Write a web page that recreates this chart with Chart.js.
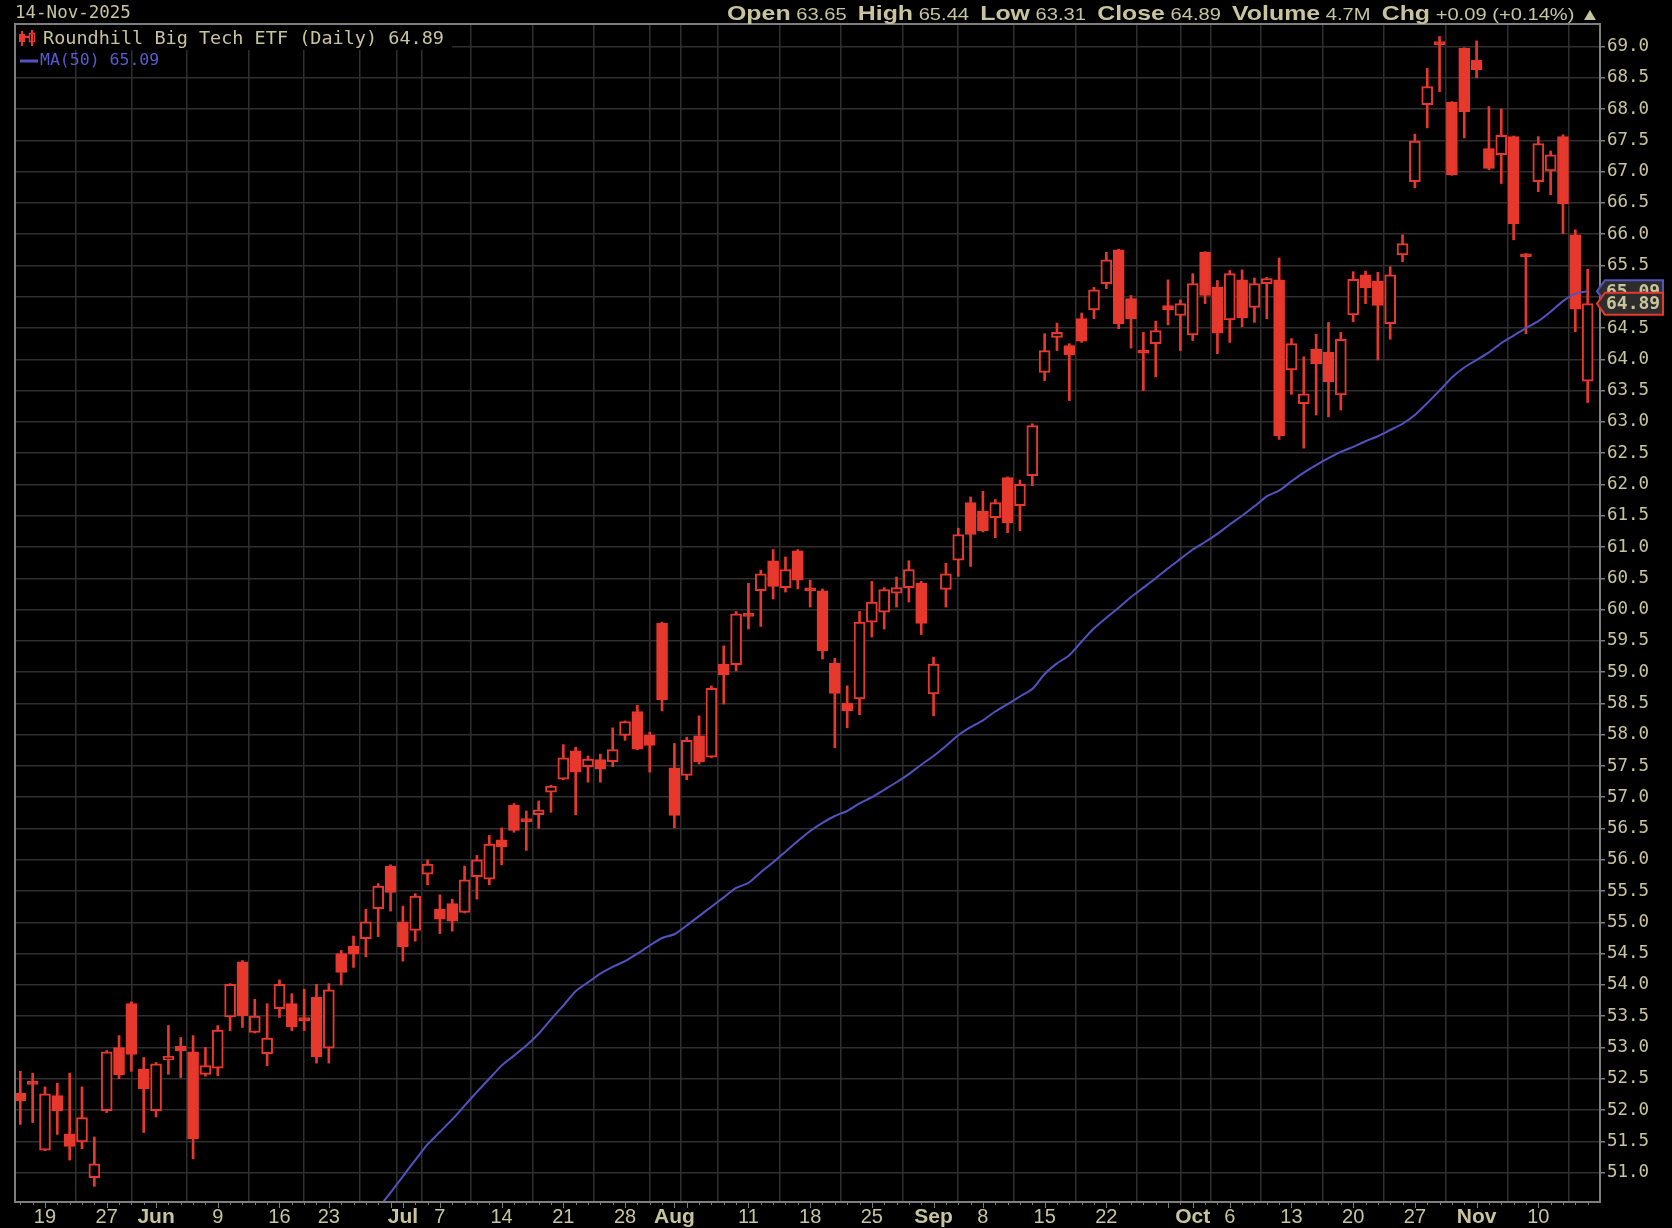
<!DOCTYPE html>
<html>
<head>
<meta charset="utf-8">
<title>Roundhill Big Tech ETF (Daily)</title>
<script src="https://cdn.jsdelivr.net/npm/chart.js@4.4.1/dist/chart.umd.min.js"></script>
<style>
  html, body { margin: 0; padding: 0; background: #000; }
  canvas { display: block; }
</style>
</head>
<body>
<canvas id="chart" width="1672" height="1228"></canvas>
<script>
// trading days, 2025 (MM-DD)
const dates = [
  '05-15','05-16','05-19','05-20','05-21','05-22','05-23','05-27','05-28','05-29','05-30',
  '06-02','06-03','06-04','06-05','06-06','06-09','06-10','06-11','06-12','06-13',
  '06-16','06-17','06-18','06-20','06-23','06-24','06-25','06-26','06-27','06-30',
  '07-01','07-02','07-03','07-07','07-08','07-09','07-10','07-11','07-14','07-15','07-16','07-17','07-18',
  '07-21','07-22','07-23','07-24','07-25','07-28','07-29','07-30','07-31',
  '08-01','08-04','08-05','08-06','08-07','08-08','08-11','08-12','08-13','08-14','08-15',
  '08-18','08-19','08-20','08-21','08-22','08-25','08-26','08-27','08-28','08-29',
  '09-02','09-03','09-04','09-05','09-08','09-09','09-10','09-11','09-12','09-15','09-16','09-17','09-18','09-19',
  '09-22','09-23','09-24','09-25','09-26','09-29','09-30',
  '10-01','10-02','10-03','10-06','10-07','10-08','10-09','10-10','10-13','10-14','10-15','10-16','10-17',
  '10-20','10-21','10-22','10-23','10-24','10-27','10-28','10-29','10-30','10-31',
  '11-03','11-04','11-05','11-06','11-07','11-10','11-11','11-12','11-13','11-14'
];

const opens = [
  52.27,52.46,51.36,52.23,51.62,51.49,50.92,51.99,53.00,53.70,52.65,
  51.99,52.80,53.02,52.93,52.57,52.67,53.49,54.37,53.24,52.90,
  53.62,53.70,53.45,53.80,52.99,54.50,54.62,54.74,55.22,55.90,
  55.01,54.87,55.77,55.21,55.30,55.16,55.73,55.69,56.32,56.87,56.64,56.72,57.08,
  57.29,57.74,57.49,57.60,57.57,57.99,58.37,57.99,59.78,
  57.47,57.35,57.98,57.64,59.13,59.12,59.92,60.30,60.78,60.35,60.94,
  60.33,60.30,59.14,58.50,58.57,59.80,59.96,60.26,60.35,60.42,
  58.65,60.32,60.79,61.71,61.57,61.47,62.11,61.66,62.14,63.79,64.35,64.22,64.65,64.79,
  65.21,65.75,64.97,64.12,64.25,64.86,64.70,
  64.39,65.71,65.15,64.63,65.27,64.83,65.21,65.27,63.83,63.29,64.16,64.11,63.43,
  64.71,65.35,65.25,64.57,65.67,66.84,68.07,69.05,68.11,68.97,
  68.78,67.37,67.27,67.56,65.67,66.84,67.01,67.56,65.99,63.65
];
const highs = [
  52.62,52.59,52.37,52.43,52.59,52.37,51.57,52.95,53.19,53.73,52.84,
  52.76,53.35,53.16,53.19,53.00,53.35,54.02,54.39,53.77,53.70,
  54.08,53.86,53.93,54.01,54.02,54.55,54.78,55.21,55.62,55.92,
  55.26,55.46,56.00,55.44,55.37,55.90,56.07,56.39,56.51,56.90,56.78,56.94,57.19,
  57.84,57.80,57.66,57.69,58.11,58.22,58.47,58.04,59.80,
  57.86,57.96,58.30,58.78,59.42,59.97,60.42,60.63,60.96,60.84,60.96,
  60.47,60.33,59.22,58.78,59.97,60.45,60.35,60.52,60.78,60.45,
  59.24,60.74,61.30,61.80,61.89,61.76,62.12,62.07,62.97,64.41,64.58,64.25,64.74,65.15,
  65.71,65.76,65.02,64.43,64.61,65.27,64.95,
  65.37,65.72,65.26,65.42,65.43,65.30,65.31,65.62,64.33,64.04,64.40,64.59,64.43,
  65.40,65.41,65.39,65.48,65.99,67.60,68.65,69.16,68.12,68.98,
  69.09,68.04,68.00,67.57,65.69,67.56,67.33,67.59,66.07,65.44
];
const lows = [
  51.77,51.80,51.35,51.61,51.20,51.38,50.78,51.96,52.50,52.62,51.64,
  51.89,52.57,52.52,51.22,52.54,52.55,53.27,53.32,53.23,52.71,
  53.48,53.27,53.27,52.75,52.75,54.00,54.28,54.45,54.77,55.18,
  54.38,54.70,55.60,54.82,54.86,55.15,55.37,55.60,55.92,56.44,56.15,56.50,56.76,
  57.28,56.72,57.24,57.24,57.49,57.91,57.76,57.40,58.38,
  56.51,57.28,57.53,57.63,58.49,59.02,59.69,59.73,60.17,60.28,60.33,
  60.04,59.21,57.79,58.11,58.32,59.56,59.69,60.04,60.12,59.60,
  58.30,60.04,60.53,60.69,61.24,61.15,61.23,61.26,61.98,63.66,64.14,63.34,64.27,64.65,
  65.13,64.49,64.18,63.50,63.72,64.55,64.14,
  64.30,64.89,64.09,64.27,64.52,64.59,64.65,62.72,63.44,62.58,63.11,63.08,63.19,
  64.60,64.89,63.99,64.32,65.56,66.74,67.70,68.28,66.94,67.54,
  68.50,67.03,66.81,65.91,64.41,66.68,66.63,66.01,64.44,63.31
];
const closes = [
  52.15,52.41,52.26,51.99,51.42,51.88,51.14,52.93,52.56,52.89,52.34,
  52.74,52.86,52.95,51.54,52.71,53.28,54.01,53.51,53.50,53.15,
  54.01,53.33,53.43,52.85,53.92,54.20,54.49,55.01,55.58,55.48,
  54.61,55.42,55.93,55.05,55.02,55.68,56.00,56.25,56.21,56.47,56.61,56.80,57.18,
  57.63,57.40,57.61,57.45,57.76,58.21,57.77,57.83,58.56,
  56.71,57.91,57.57,58.74,58.96,59.93,59.89,60.57,60.37,60.64,60.47,
  60.30,59.34,58.66,58.38,59.80,60.12,60.32,60.35,60.64,59.78,
  59.13,60.57,61.20,61.20,61.26,61.71,61.39,62.00,62.94,64.14,64.43,64.07,64.29,65.11,
  65.59,64.57,64.65,64.10,64.46,64.79,64.89,
  65.21,65.02,64.42,65.37,64.66,65.21,65.29,62.78,64.25,63.45,63.93,63.64,64.32,
  65.28,65.14,64.86,65.35,65.85,67.49,68.36,69.03,66.95,67.96,
  68.63,67.05,67.58,66.17,65.64,67.45,67.27,66.49,64.80,64.89
];
// 50-day moving average (below the axis before late June)
const ma50 = [
  null,null,null,null,null,null,null,null,null,null,null,
  null,null,null,null,null,null,null,null,null,null,
  null,null,null,null,null,null,null,null,50.43,50.68,
  50.94,51.20,51.45,51.65,51.85,52.07,52.29,52.50,52.71,52.87,53.03,53.22,53.45,
  53.67,53.90,54.04,54.18,54.29,54.38,54.50,54.63,54.75,
  54.81,54.95,55.10,55.25,55.40,55.55,55.63,55.80,55.96,56.13,56.30,
  56.46,56.59,56.70,56.78,56.90,57.00,57.12,57.24,57.37,57.52,
  57.66,57.82,57.99,58.12,58.23,58.37,58.49,58.61,58.73,58.97,59.14,59.27,59.49,59.70,
  59.87,60.03,60.20,60.35,60.50,60.66,60.81,
  60.96,61.08,61.21,61.36,61.50,61.65,61.81,61.90,62.05,62.19,62.31,62.42,62.52,
  62.60,62.69,62.77,62.87,62.97,63.11,63.30,63.50,63.71,63.87,
  63.99,64.11,64.26,64.38,64.50,64.61,64.76,64.93,65.05,65.09
];

const xTickDates = ['05-19','05-27','06-02','06-09','06-16','06-23','06-30','07-01','07-07','07-14',
  '07-21','07-28','08-01','08-04','08-11','08-18','08-25','09-02','09-08','09-15','09-22','09-29',
  '10-01','10-06','10-13','10-20','10-27','11-03','11-10'];
const xTickText = ['19','27','Jun','9','16','23','','Jul','7','14',
  '21','28','Aug','','11','18','25','Sep','8','15','22','',
  'Oct','6','13','20','27','Nov','10'];
const yTicks = [51.0,51.5,52.0,52.5,53.0,53.5,54.0,54.5,55.0,55.5,56.0,56.5,57.0,57.5,58.0,58.5,
  59.0,59.5,60.0,60.5,61.0,61.5,62.0,62.5,63.0,63.5,64.0,64.5,65.0,65.5,66.0,66.5,67.0,67.5,
  68.0,68.5,69.0];

const volumeText = '4.7M';
const dateText = '14-Nov-2025';
const titleText = 'Roundhill Big Tech ETF (Daily)';

const RED = '#e6382c';
const BLUE = '#5252c0';
const KHAKI = '#c9c49b';
const GRID = '#2f2f2f';
const AXIS = '#7e7e7e';

const last = dates.length - 1;
const tickIdx = xTickDates.map(d => dates.indexOf(d));

// texts around the plot: header, legend, price tags, x labels
const decor = {
  id: 'decor',
  beforeDraw(chart) {
    const c = chart.ctx;
    c.save();
    c.fillStyle = '#000';
    c.fillRect(0, 0, chart.width, chart.height);
    c.restore();
  },
  afterDraw(chart) {
    const c = chart.ctx;
    const a = chart.chartArea;
    const xs = chart.scales.x;
    const ys = chart.scales.y;
    c.save();

    // frame
    c.strokeStyle = AXIS;
    c.lineWidth = 2;
    c.strokeRect(a.left, a.top, a.right - a.left, a.bottom - a.top);

    // day ticks under the plot
    c.lineWidth = 1;
    c.beginPath();
    dates.forEach((d, i) => {
      const x = Math.round(xs.getPixelForValue(i)) + 0.5;
      const len = tickIdx.includes(i) ? 6 : 3;
      c.moveTo(x, a.bottom);
      c.lineTo(x, a.bottom + len);
    });
    c.stroke();

    // x labels
    c.fillStyle = KHAKI;
    c.textAlign = 'center';
    c.textBaseline = 'alphabetic';
    xTickText.forEach((t, k) => {
      if (!t) return;
      const month = /[A-Za-z]/.test(t);
      c.font = month ? 'bold 21px "Liberation Sans", Arial, sans-serif' : '20px "Liberation Sans", Arial, sans-serif';
      c.fillText(t, xs.getPixelForValue(tickIdx[k]), 1223);
    });

    // date, top left
    c.textAlign = 'left';
    c.textBaseline = 'middle';
    c.font = '17.5px "DejaVu Sans Mono", monospace';
    c.fillText(dateText, 15, 13);

    // header, top right
    const chg = closes[last] - closes[last - 1];
    const pct = chg / closes[last - 1] * 100;
    const sign = chg >= 0 ? '+' : '-';
    const parts = [
      ['Open', 1], [' ' + opens[last].toFixed(2) + '  ', 0],
      ['High', 1], [' ' + highs[last].toFixed(2) + '  ', 0],
      ['Low', 1], [' ' + lows[last].toFixed(2) + '  ', 0],
      ['Close', 1], [' ' + closes[last].toFixed(2) + '  ', 0],
      ['Volume', 1], [' ' + volumeText + '  ', 0],
      ['Chg', 1], [' ' + sign + Math.abs(chg).toFixed(2) + ' (' + sign + Math.abs(pct).toFixed(2) + '%) \u25B2', 0]
    ];
    const fb = 'bold 21px "Liberation Sans", Arial, sans-serif';
    const fr = '17px "Liberation Sans", Arial, sans-serif';
    let total = 0;
    parts.forEach(p => { c.font = p[1] ? fb : fr; total += c.measureText(p[0]).width; });
    const hx0 = 727, hx1 = 1600;
    c.save();
    c.translate(hx0, 20);
    c.scale((hx1 - hx0) / total, 1);
    c.textBaseline = 'alphabetic';
    let hx = 0;
    parts.forEach(p => {
      c.font = p[1] ? fb : fr;
      c.fillText(p[0], hx, 0);
      hx += c.measureText(p[0]).width;
    });
    c.restore();

    // legend line 1 with its black box
    c.fillStyle = '#000';
    c.fillRect(a.left + 1, a.top + 1, 436, 25);
    // candle icon
    c.fillStyle = RED;
    c.fillRect(21, 31, 2, 15);
    c.fillRect(19, 34, 6, 8);
    c.fillRect(31, 30, 2, 16);
    c.strokeStyle = RED;
    c.lineWidth = 1.5;
    c.strokeRect(29.5, 33.5, 5, 8);
    c.fillRect(25, 36, 4, 2);
    c.fillStyle = KHAKI;
    c.font = '18.5px "DejaVu Sans Mono", monospace';
    c.fillText(titleText + ' ' + closes[last].toFixed(2), 43, 39);

    // legend line 2
    c.strokeStyle = BLUE;
    c.lineWidth = 3;
    c.beginPath();
    c.moveTo(20, 61);
    c.lineTo(38, 61);
    c.stroke();
    c.fillStyle = '#5a5ad0';
    c.font = '16.5px "DejaVu Sans Mono", monospace';
    c.fillText('MA(50) ' + ma50[last].toFixed(2), 40, 61);

    // price tags on the right
    const tag = (val, col) => {
      const y = ys.getPixelForValue(val);
      c.beginPath();
      c.moveTo(1597, y);
      c.lineTo(1605, y - 11);
      c.lineTo(1663, y - 11);
      c.lineTo(1663, y + 11);
      c.lineTo(1605, y + 11);
      c.closePath();
      c.fillStyle = '#2d2d2d';
      c.fill();
      c.strokeStyle = col;
      c.lineWidth = 2;
      c.stroke();
      c.fillStyle = KHAKI;
      c.font = 'bold 18px "DejaVu Sans Mono", monospace';
      c.textBaseline = 'middle';
      c.fillText(val.toFixed(2), 1606, y + 1);
    };
    tag(ma50[last], BLUE);
    tag(closes[last], RED);

    c.restore();
  }
};

new Chart(document.getElementById('chart'), {
  type: 'bar',
  data: {
    datasets: [
      {
        type: 'line',
        label: 'MA(50)',
        data: ma50.map((v, i) => ({ x: i, y: v })),
        borderColor: BLUE,
        borderWidth: 2,
        pointRadius: 0,
        tension: 0.2,
        order: 0
      },
      {
        label: 'body',
        data: dates.map((d, i) => ({ x: i, y: [opens[i], closes[i]] })),
        backgroundColor: dates.map((d, i) => closes[i] > opens[i] ? '#000' : RED),
        borderColor: RED,
        borderWidth: 2,
        borderSkipped: false,
        barThickness: 11,
        minBarLength: 3,
        grouped: false,
        order: 1
      },
      {
        label: 'wick',
        data: dates.map((d, i) => ({ x: i, y: [lows[i], highs[i]] })),
        backgroundColor: RED,
        borderWidth: 0,
        barThickness: 2,
        grouped: false,
        order: 2
      }
    ]
  },
  options: {
    responsive: false,
    animation: false,
    devicePixelRatio: 1,
    layout: { padding: { left: 15, top: 24, right: 0, bottom: 0 } },
    plugins: {
      legend: { display: false },
      tooltip: { enabled: false }
    },
    scales: {
      x: {
        type: 'linear',
        min: -0.43,
        max: 128.0,
        offset: false,
        afterBuildTicks: (s) => { s.ticks = tickIdx.map(v => ({ value: v })); },
        afterFit: (s) => { s.height = 26; },
        ticks: { display: false },
        grid: { color: GRID, lineWidth: 1.5, drawTicks: false },
        border: { display: false }
      },
      y: {
        position: 'right',
        min: 50.53,
        max: 69.36,
        afterBuildTicks: (s) => { s.ticks = yTicks.map(v => ({ value: v })); },
        afterFit: (s) => { s.width = 72; },
        ticks: {
          color: KHAKI,
          padding: 2,
          font: { family: '"DejaVu Sans Mono", monospace', size: 17.5 },
          callback: (v) => Number(v).toFixed(1)
        },
        grid: { color: GRID, lineWidth: 1.5, tickLength: 5, tickColor: AXIS },
        border: { display: false }
      }
    }
  },
  plugins: [decor]
});
</script>
</body>
</html>
